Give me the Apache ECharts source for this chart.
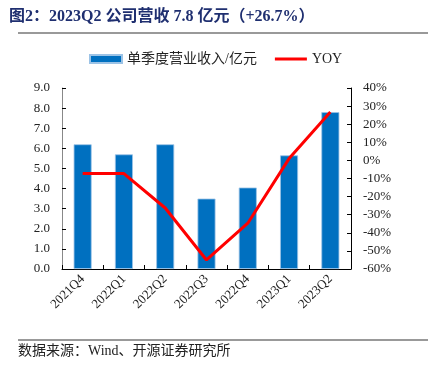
<!DOCTYPE html>
<html><head><meta charset="utf-8">
<script src="https://cdn.jsdelivr.net/npm/echarts@6/dist/echarts.min.js"></script>
<style>html,body{margin:0;padding:0;background:#fff}#c{width:440px;height:366px}</style>
</head><body><div id="c"></div>
<script>
const categories = ['2021Q4','2022Q1','2022Q2','2022Q3','2022Q4','2023Q1','2023Q2'];
const revenue = [6.2, 5.7, 6.2, 3.5, 4.05, 5.65, 7.8];
const yoy = [-7.2, -7.3, -26.3, -55, -34.7, 1.0, 26.7];
const leftTicks = {min: 0, max: 9, interval: 1};
const rightTicks = {min: -60, max: 40, interval: 10};

const FONT = "'Liberation Serif','Noto Sans CJK SC',serif";
const chart = echarts.init(document.getElementById('c'), null, {renderer: 'canvas'});
chart.setOption({
  animation: false,
  title: {
    text: '图2：2023Q2 公司营收 7.8 亿元（+26.7%）',
    left: 4, top: 4,
    textStyle: {fontFamily: FONT, fontSize: 16, fontWeight: 'bold', color: '#1f2f70'}
  },
  graphic: [
    {type: 'line', shape: {x1: 18, y1: 33, x2: 428, y2: 33}, style: {stroke: '#777', lineWidth: 1.5}},
    {type: 'line', shape: {x1: 18, y1: 340, x2: 428, y2: 340}, style: {stroke: '#777', lineWidth: 1.5}},
    {type: 'text', left: 18, top: 344, style: {text: '数据来源：Wind、开源证券研究所', font: "14px 'Liberation Serif','Noto Sans CJK SC',serif", fill: '#222'}}
  ],
  legend: {
    top: 47, left: 84, itemGap: 18,
    itemWidth: 32, itemHeight: 8,
    textStyle: {fontFamily: FONT, fontSize: 14, color: '#222'},
    data: [
      {name: '单季度营业收入/亿元', icon: 'rect'},
      {name: 'YOY', icon: 'path://M0,0H32V3H0Z'}
    ]
  },
  grid: {left: 62, right: 89, top: 88, bottom: 97},
  xAxis: {
    type: 'category', data: categories,
    axisLine: {lineStyle: {color: '#000', width: 1}},
    axisTick: {show: true, inside: true, alignWithLabel: false, length: 4, lineStyle: {color: '#000'}},
    axisLabel: {rotate: 45, fontFamily: FONT, fontSize: 13, color: '#222', margin: 8}
  },
  yAxis: [
    {type: 'value', min: leftTicks.min, max: leftTicks.max, interval: leftTicks.interval,
     position: 'left',
     axisLine: {show: true, lineStyle: {color: '#888'}},
     axisTick: {show: true, inside: true, length: 4, lineStyle: {color: '#000'}},
     splitLine: {show: false},
     axisLabel: {fontFamily: FONT, fontSize: 13, color: '#222', margin: 12, formatter: v => v.toFixed(1)}},
    {type: 'value', min: rightTicks.min, max: rightTicks.max, interval: rightTicks.interval,
     position: 'right',
     axisLine: {show: true, lineStyle: {color: '#000'}},
     axisTick: {show: true, inside: true, length: 4, lineStyle: {color: '#000'}},
     splitLine: {show: false},
     axisLabel: {fontFamily: FONT, fontSize: 13, color: '#222', margin: 12, formatter: v => v + '%'}}
  ],
  series: [
    {name: '单季度营业收入/亿元', type: 'bar', data: revenue, barWidth: 18,
     itemStyle: {color: '#0070c0', borderColor: '#9cc3e6', borderWidth: 0.8}},
    {name: 'YOY', type: 'line', yAxisIndex: 1, data: yoy, symbol: 'none',
     lineStyle: {color: '#ff0000', width: 3}, itemStyle: {color: '#ff0000'}}
  ]
});
</script></body></html>
